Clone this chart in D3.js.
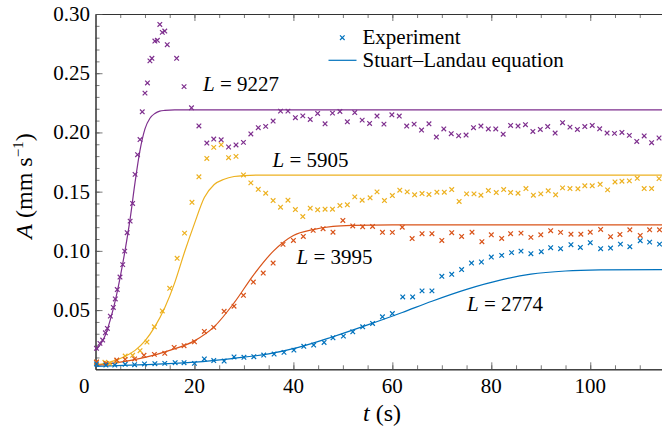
<!DOCTYPE html>
<html>
<head>
<meta charset="utf-8">
<script src="https://cdn.jsdelivr.net/npm/d3@7"></script>
</head>
<body style="margin:0">
<svg id="chart" width="662" height="432" font-family="Liberation Serif"></svg>
<script>
// experiment points [t (s), A (mm/s)]
const exp9227 = [[0.2,0.0177],[0.9,0.0219],[1.45,0.0247],[2.0,0.0308],[2.4,0.0345],[3.0,0.0449],[3.6,0.0522],[4.0,0.0594],[4.4,0.0673],[4.95,0.0779],[5.5,0.0884],[5.9,0.0998],[6.4,0.1153],[7.0,0.1251],[7.5,0.140],[8.0,0.1646],[8.5,0.1812],[9.0,0.194],[9.45,0.2174],[10.0,0.2332],[10.5,0.2418],[11.0,0.2604],[11.4,0.2626],[12.0,0.2772],[12.5,0.2778],[13.0,0.2912],[13.5,0.2845],[14.0,0.2856],[14.5,0.2741],[16.4,0.2626],[17.9,0.2387],[19.4,0.2208],[20.9,0.2055],[22.5,0.191],[23.9,0.1944],[25.4,0.1938],[26.9,0.1877],[28.4,0.1894],[29.9,0.1916],[31.4,0.1987],[32.9,0.204],[34.4,0.2051],[35.9,0.2096],[37.4,0.218],[38.9,0.218],[40.4,0.2124],[41.9,0.214],[43.4,0.211],[44.9,0.216],[46.4,0.2073],[47.9,0.2163],[49.4,0.2177],[50.9,0.209],[52.4,0.2168],[53.9,0.2104],[55.4,0.2076],[56.9,0.2138],[58.3,0.207],[59.9,0.2149],[61.4,0.2138],[62.9,0.2054],[64.4,0.207],[65.9,0.202],[67.4,0.2073],[68.9,0.1961],[70.4,0.2029],[71.9,0.1989],[73.4,0.1972],[74.9,0.1978],[76.4,0.204],[77.9,0.2054],[79.4,0.2029],[80.9,0.2029],[82.4,0.1985],[83.9,0.2059],[85.4,0.2054],[86.9,0.2065],[88.4,0.2008],[89.9,0.2025],[91.4,0.205],[92.9,0.1995],[94.4,0.2082],[95.9,0.2045],[97.4,0.2025],[98.9,0.205],[100.4,0.2059],[101.9,0.2031],[103.4,0.1995],[104.9,0.1992],[106.4,0.2],[107.9,0.1975],[109.4,0.1924],[110.9,0.197],[112.4,0.1913],[113.9,0.1953]]

const exp5905 = [[0.2,0.0059],[1.9,0.0059],[2.9,0.005],[4.3,0.0072],[6.0,0.0112],[7.5,0.0118],[9.0,0.0157],[10.4,0.023],[11.9,0.0359],[13.5,0.0493],[15.0,0.0684],[16.5,0.0937],[18.0,0.115],[19.5,0.141],[20.9,0.1625],[22.5,0.178],[23.9,0.1874],[25.4,0.1896],[26.9,0.1787],[28.4,0.1798],[29.9,0.1641],[31.4,0.1574],[32.9,0.152],[34.4,0.1487],[35.9,0.1425],[37.4,0.1369],[38.9,0.1428],[40.4,0.1349],[41.9,0.129],[43.4,0.136],[44.9,0.1347],[46.4,0.1352],[47.9,0.1352],[49.4,0.1383],[50.9,0.1389],[52.4,0.1456],[53.9,0.1428],[55.5,0.1448],[56.9,0.1498],[58.4,0.1425],[60.0,0.1467],[61.5,0.1512],[63.0,0.1498],[64.5,0.1473],[66.0,0.1484],[67.4,0.1476],[69.0,0.1495],[70.5,0.1495],[72.0,0.1518],[73.5,0.1417],[75.0,0.1481],[76.5,0.1481],[77.9,0.147],[79.4,0.1509],[81.0,0.1492],[82.5,0.1518],[83.9,0.1492],[85.4,0.1487],[87.0,0.1526],[88.5,0.147],[90.0,0.1481],[91.5,0.1507],[93.0,0.1473],[94.4,0.1532],[95.9,0.1526],[97.5,0.1524],[98.9,0.1549],[100.4,0.1549],[102.0,0.1562],[103.5,0.1515],[105.0,0.1582],[106.4,0.1588],[107.9,0.1591],[109.5,0.1613],[110.9,0.1526],[112.4,0.1526],[113.9,0.161]]

const exp3995 = [[0.2,0.0061],[2.1,0.005],[4.3,0.0078],[6.0,0.0084],[7.9,0.0087],[9.8,0.0118],[11.9,0.0126],[14.0,0.0135],[15.9,0.0185],[17.9,0.0199],[20.0,0.0232],[22.0,0.032],[23.9,0.0354],[26.0,0.049],[28.0,0.0533],[29.9,0.0625],[31.9,0.0737],[33.9,0.0813],[35.9,0.0897],[37.9,0.1055],[40.0,0.1088],[42.0,0.1122],[44.0,0.1173],[46.0,0.1187],[48.0,0.1158],[50.0,0.1257],[52.0,0.121],[54.0,0.1203],[56.0,0.1206],[58.0,0.1157],[60.0,0.1156],[62.0,0.12],[64.0,0.1104],[66.0,0.1145],[68.0,0.1145],[70.0,0.1088],[72.0,0.1153],[74.0,0.1122],[76.1,0.1158],[78.1,0.1077],[80.0,0.1136],[82.1,0.1105],[83.9,0.1145],[86.0,0.115],[88.0,0.1114],[90.0,0.1136],[92.0,0.117],[94.0,0.1156],[96.1,0.1141],[98.1,0.1141],[100.0,0.1158],[102.1,0.1181],[104.1,0.112],[106.0,0.1139],[108.0,0.1178],[110.1,0.113],[112.0,0.1178],[114.0,0.1178]]

const exp2774 = [[0.2,0.0045],[2.1,0.0036],[3.9,0.0036],[6.0,0.0042],[7.9,0.0039],[9.9,0.0045],[12.0,0.0047],[14.0,0.005],[16.1,0.0056],[17.9,0.0056],[20.0,0.005],[22.0,0.0087],[23.9,0.0074],[26.0,0.007],[28.0,0.0104],[30.0,0.0101],[32.0,0.0106],[34.0,0.012],[36.1,0.0129],[38.1,0.0143],[40.1,0.0162],[42.1,0.0194],[44.1,0.0205],[46.2,0.0227],[48.0,0.0266],[50.1,0.028],[52.0,0.0317],[54.0,0.0359],[56.0,0.0387],[58.0,0.0443],[60.0,0.0471],[62.1,0.0611],[64.1,0.0611],[66.0,0.0662],[68.0,0.0662],[70.0,0.0785],[72.0,0.0802],[74.0,0.0842],[76.0,0.0897],[78.0,0.0906],[80.0,0.0948],[82.1,0.0962],[84.1,0.0985],[86.0,0.0998],[88.0,0.0976],[90.1,0.0993],[92.0,0.1027],[94.0,0.1018],[96.1,0.1052],[98.0,0.1029],[100.0,0.1069],[102.1,0.1018],[104.1,0.1024],[106.1,0.1057],[108.0,0.1035],[110.1,0.1086],[112.0,0.1074],[114.0,0.1057]]

// Stuart-Landau fit curves
const fit9227 = [[0,0.016],[1,0.021],[2,0.029],[3,0.042],[4,0.058],[5,0.078],[6,0.101],[7,0.127],[8,0.158],[9,0.185],[10,0.203],[11,0.212],[12,0.216],[13,0.218],[14,0.2186],[16,0.219],[20,0.219],[114.5,0.219]]
const fit5905 = [[0,0.004],[2,0.005],[4,0.0075],[6,0.011],[8,0.016],[10,0.024],[12,0.036],[14,0.052],[16,0.073],[18,0.099],[20,0.123],[22,0.145],[24,0.156],[26,0.1605],[28,0.1628],[30,0.1636],[34,0.164],[114.5,0.164]]
const fit3995 = [[0,0.003],[5,0.006],[10,0.010],[15,0.016],[20,0.024],[24,0.036],[28,0.056],[32,0.080],[36,0.100],[40,0.113],[44,0.118],[48,0.1206],[52,0.1215],[60,0.122],[114.5,0.122]]
const fit2774 = [[0,0.0025],[10,0.004],[20,0.006],[28,0.0093],[35,0.013],[41,0.0185],[48,0.0275],[55,0.0375],[62,0.048],[68,0.0575],[75,0.0675],[82,0.0755],[88,0.0803],[95,0.083],[102,0.0839],[114.5,0.0842]]

const seriesNames = ['9227', '5905', '3995', '2774']
const colors = ['#7E2F8E', '#EDB120', '#D95319', '#0072BD']
const xTicks = [0, 20, 40, 60, 80, 100]
const yTicks = [0.05, 0.10, 0.15, 0.20, 0.25, 0.30]

const FONT = 'Liberation Serif'

const svg = d3.select('#chart')

const x = d3.scaleLinear().domain([0, 114.5]).range([95.5, 662])
const y = d3.scaleLinear().domain([0, 0.30]).range([369.3, 14])

// minor ticks (every 5 s / 0.01)
svg.append('g')
  .attr('transform', `translate(0,${y(0)})`)
  .call(d3.axisBottom(x).tickValues(d3.range(5, 115, 5)).tickSize(-4).tickSizeOuter(0).tickFormat(''))
svg.append('g')
  .attr('transform', `translate(0,${y(0.30)})`)
  .call(d3.axisTop(x).tickValues(d3.range(5, 115, 5)).tickSize(-4).tickSizeOuter(0).tickFormat(''))
svg.append('g')
  .attr('transform', `translate(${x(0)},0)`)
  .call(d3.axisLeft(y).tickValues(d3.range(0.01, 0.30, 0.01)).tickSize(-4).tickSizeOuter(0).tickFormat(''))

// major ticks, labels drawn separately below
svg.append('g')
  .attr('transform', `translate(0,${y(0)})`)
  .call(d3.axisBottom(x).tickValues(xTicks).tickSize(-7).tickSizeOuter(0).tickFormat(''))
svg.append('g')
  .attr('transform', `translate(0,${y(0.30)})`)
  .call(d3.axisTop(x).tickValues(xTicks.filter(d => d > 0)).tickSize(-7).tickSizeOuter(0).tickFormat(''))
svg.append('g')
  .attr('transform', `translate(${x(0)},0)`)
  .call(d3.axisLeft(y).tickValues(yTicks).tickSize(-7).tickSizeOuter(0).tickFormat(''))

// drop the sans-serif defaults that d3.axis puts on its groups
svg.selectAll('g').attr('font-family', null).attr('font-size', null)
svg.selectAll('.tick text').remove()
svg.selectAll('.domain').attr('stroke', '#333').attr('stroke-width', 1)
svg.selectAll('.tick line').attr('stroke', '#555').attr('stroke-width', 0.8)

// tick labels
svg.append('g')
  .selectAll('text')
  .data(xTicks)
  .join('text')
  .attr('x', d => d === 0 ? x(d) - 6 : x(d))
  .attr('y', 393)
  .attr('text-anchor', d => d === 0 ? 'end' : 'middle')
  .attr('font-family', FONT)
  .attr('font-size', 21)
  .text(d3.format('d'))

svg.append('g')
  .selectAll('text')
  .data(yTicks)
  .join('text')
  .attr('x', x(0) - 5.5)
  .attr('y', d => y(d) + 7)
  .attr('text-anchor', 'end')
  .attr('font-family', FONT)
  .attr('font-size', 21)
  .text(d3.format('.2f'))

// axis titles
const xl = svg.append('text')
  .attr('x', 382).attr('y', 421)
  .attr('text-anchor', 'middle')
  .attr('font-family', FONT)
  .attr('font-size', 24)
xl.append('tspan').attr('font-style', 'italic').text('t')
xl.append('tspan').text(' (s)')

const yl = svg.append('text')
  .attr('transform', 'translate(32,186) rotate(-90)')
  .attr('text-anchor', 'middle')
  .attr('font-family', FONT)
  .attr('font-size', 24)
yl.append('tspan').attr('font-style', 'italic').text('A')
yl.append('tspan').text(' (mm s')
yl.append('tspan').attr('dy', -9).attr('font-size', 15).text('−1')
yl.append('tspan').attr('dy', 9).text(')')

// fitted lines
const line = d3.line()
  .x(d => x(d[0]))
  .y(d => y(d[1]))
  .curve(d3.curveMonotoneX)

const fits = [fit9227, fit5905, fit3995, fit2774]
const exps = [exp9227, exp5905, exp3995, exp2774]

svg.append('g')
  .selectAll('path')
  .data(fits)
  .join('path')
  .attr('d', line)
  .attr('fill', 'none')
  .attr('stroke', (d, i) => colors[i])
  .attr('stroke-width', 1.2)

// cross markers
const cross = (cx, cy, s) => `M${cx - s},${cy - s}L${cx + s},${cy + s}M${cx - s},${cy + s}L${cx + s},${cy - s}`

exps.forEach((pts, i) => {
  svg.append('g')
    .selectAll('path')
    .data(pts)
    .join('path')
    .attr('d', d => cross(x(d[0]), y(d[1]), 2.3))
    .attr('stroke', colors[i])
    .attr('stroke-width', 1.2)
    .attr('fill', 'none')
})

// curve labels
const labelPos = [[203, 91], [272.5, 167], [296.5, 263.5], [467, 311]]
labelPos.forEach((p, i) => {
  const t = svg.append('text')
    .attr('x', p[0]).attr('y', p[1])
    .attr('font-family', FONT)
    .attr('font-size', 21)
  t.append('tspan').attr('font-style', 'italic').text('L')
  t.append('tspan').text(' = ' + seriesNames[i])
})

// legend
svg.append('path')
  .attr('d', cross(342.3, 37.7, 2.3))
  .attr('stroke', colors[3])
  .attr('stroke-width', 1.2)
svg.append('text')
  .attr('x', 362.5).attr('y', 44)
  .attr('font-family', FONT)
  .attr('font-size', 21)
  .text('Experiment')
svg.append('line')
  .attr('x1', 328.5).attr('x2', 356.5)
  .attr('y1', 60.3).attr('y2', 60.3)
  .attr('stroke', colors[3])
  .attr('stroke-width', 1.2)
svg.append('text')
  .attr('x', 362.5).attr('y', 67)
  .attr('font-family', FONT)
  .attr('font-size', 21)
  .text('Stuart–Landau equation')
</script>
</body>
</html>
